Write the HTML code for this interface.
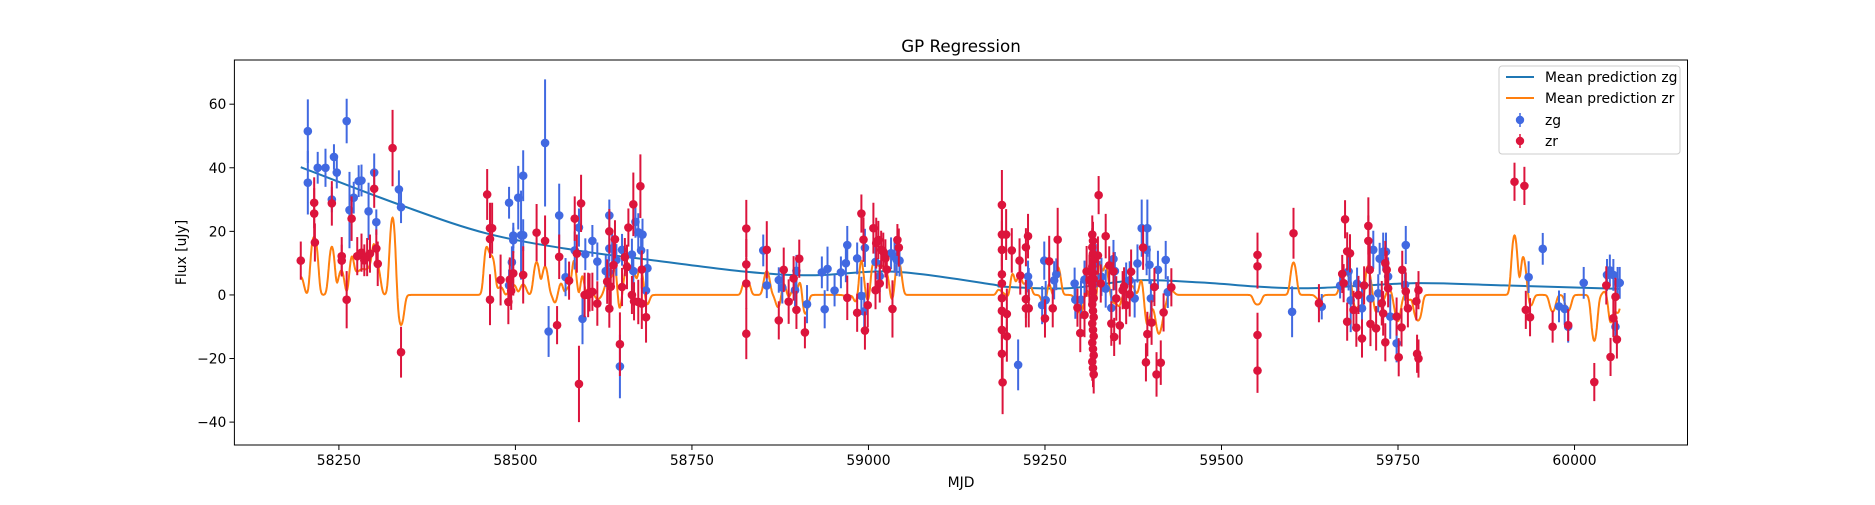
<!DOCTYPE html>
<html><head><meta charset="utf-8"><style>
body{margin:0;background:#fff}
svg text{font-family:"DejaVu Sans","Liberation Sans",sans-serif}
</style></head><body>
<svg id="chart" width="1875" height="500" xmlns="http://www.w3.org/2000/svg">
<rect x="0" y="0" width="1875" height="500" fill="#fff"/>
<text x="961" y="52" font-size="16.7" text-anchor="middle">GP Regression</text>
<text x="961" y="487" font-size="13.9" text-anchor="middle">MJD</text>
<text transform="translate(186,252.5) rotate(-90)" font-size="13.9" text-anchor="middle">Flux [uJy]</text>
<g id="plot"></g>
<g id="axes"></g>
<g>
<rect x="1499" y="66" width="181" height="88" rx="3" fill="#fff" fill-opacity="0.8" stroke="#ccc"/>
<line x1="1506" y1="77" x2="1534" y2="77" stroke="#1f77b4" stroke-width="2"/>
<text x="1545" y="82" font-size="13.9">Mean prediction zg</text>
<line x1="1506" y1="98" x2="1534" y2="98" stroke="#ff7f0e" stroke-width="2"/>
<text x="1545" y="103" font-size="13.9">Mean prediction zr</text>
<line x1="1520" y1="113" x2="1520" y2="127" stroke="#4169e1" stroke-width="1.5"/>
<circle cx="1520" cy="120" r="4.2" fill="#4169e1"/>
<text x="1545" y="125" font-size="13.9">zg</text>
<line x1="1520" y1="134" x2="1520" y2="148" stroke="#dc143c" stroke-width="1.5"/>
<circle cx="1520" cy="141" r="4.2" fill="#dc143c"/>
<text x="1545" y="146" font-size="13.9">zr</text>
</g>
</svg>
<script>
const xTicks=[58250,58500,58750,59000,59250,59500,59750,60000];
const yTicks=[-40,-20,0,20,40,60];
const zgData=[[58206,51.5,10],[58206,35.3,10],[58220,40,5],[58231,40,6],[58243,43.4,4],[58247,38.5,5],[58240,30,4],[58261,54.7,7],[58265,26.7,12],[58271,30.6,5],[58278,35.8,5],[58282,36,5],[58292,26.3,9],[58300,38.5,6],[58303,22.9,4],[58335,33.2,6],[58338,27.6,5],
[58491,29,5],[58491,3,5],[58495,10.3,5],[58497,18.7,4],[58497,17.2,4],[58504,30.6,10],[58508,18.8,14],[58511,37.5,8],[58511,18.8,5],[58542,47.8,20],[58547,-11.5,8],[58562,25,10],[58571,5.6,6],[58584,14,6],[58590,21.2,6],[58595,-7.5,8],[58599,12.8,5],[58609,17,5],[58616,10.5,6],[58628,7.5,5],[58632,7.2,5],[58633,25,5],[58633,14.6,4],[58637,14.6,5],[58643,11,5],[58648,-22.5,10],[58651,14.2,5],[58665,12.7,5],[58667,7.5,6],[58670,23,5],[58674,19.7,6],[58678,14,6],[58680,19,5],[58685,1.4,6],[58687,8.4,6],
[58851,14,5],[58856,3,4],[58873,4.7,4],[58878,2.3,5],[58896,1.5,5],[58898,7.6,5],[58913,-2.9,6],[58934,7.1,5],[58938,-4.5,6],[58942,8.2,7],[58952,1.4,5],[58961,7.1,5],[58968,10,6],[58970,15.7,6],[58984,11.5,5],[58990,-0.3,6],[58994,-5.2,6],[58995,14.8,6],[59010,10.4,5],[59016,5.9,5],[59032,13.1,5],[59037,12,5],[59040,11,5],[59044,10.8,5],
[59212,-22,8],[59226,5.8,5],[59227,3.5,5],[59246,-3.2,6],[59249,10.8,6],[59251,-1.6,6],[59263,4.6,6],[59266,6.5,5],[59292,3.6,5],[59293,-1.5,6],[59301,-1.5,6],[59306,4.8,6],[59321,3.6,6],[59322,10,6],[59330,5.7,6],[59336,2,6],[59344,-4.1,6],[59347,11.3,6],[59349,7.5,6],[59365,4.2,6],[59370,4.6,6],[59377,-1.1,6],[59381,9.9,6],[59387,21,9],[59395,21,9],[59394,14.2,8],[59398,9.5,6],[59400,-1.1,6],[59410,7.9,6],[59421,11,6],[59424,0.9,5],
[59600,-5.3,8],[59642,-3.7,4],[59668,2.9,4],[59680,7.4,6],[59683,-1.7,10],[59692,3.6,5],[59699,-4.2,8],[59711,-1.1,6],[59715,14.2,6],[59722,0.5,6],[59724,11.4,5],[59729,13.6,6],[59733,13.6,6],[59736,5.8,6],[59739,-6.8,7],[59748,-15.2,6],[59760,3.2,5],[59761,15.7,6],
[59935,5.6,5],[59955,14.5,5],[59978,-3.6,5],[59986,-4.4,5],[59991,-10,5],[60013,3.8,5],[60046,6.3,5],[60050,7.7,5],[60055,6.3,5],[60061,3.8,5],[60064,3.8,5],[60058,-10,5]];
const zrData=[[58196,10.8,6],[58215,29,8],[58215,25.6,8],[58216,16.5,6],[58240,28.8,7],[58254,12.2,6],[58254,10.8,5],[58261,-1.5,9],[58268,24,7],[58276,12.2,6],[58282,13.3,6],[58286,10.9,5],[58290,11.9,6],[58294,13,6],[58300,33.4,6],[58303,14.6,6],[58305,9.8,7],[58326,46.2,12],[58338,-18,8],
[58460,31.6,8],[58464,21,8],[58467,21,8],[58464,17.6,6],[58464,-1.5,8],[58479,4.7,8],[58490,-2.2,7],[58492,4.8,7],[58494,1.3,6],[58497,6.8,7],[58511,6.3,9],[58530,19.6,9],[58542,17,8],[58559,-9.5,6],[58562,12,7],[58576,4.5,6],[58584,24,7],[58587,13,6],[58590,-28,12],[58593,28.8,9],[58598,0,7],[58603,0,7],[58605,0.8,6],[58609,1,6],[58616,-2.7,7],[58630,4.2,7],[58633,20,7],[58633,-4.3,6],[58635,2.6,7],[58639,9.4,7],[58641,17.5,6],[58648,-15.5,10],[58651,2.5,6],[58655,11.9,6],[58658,8.8,7],[58660,21.2,6],[58665,0,6],[58667,28.5,10],[58668,-2,6],[58674,-2.2,7],[58677,34.2,10],[58679,-2.7,8],[58679,8,6],[58685,-7,8],
[58827,20.9,9],[58827,9.6,8],[58827,3.6,8],[58827,-12.2,8],[58856,14.2,9],[58873,-8,6],[58880,7.9,7],[58887,-2.1,7],[58894,5.2,7],[58898,-4.7,6],[58902,11.4,6],[58910,-11.8,5],[58970,-0.9,7],[58984,-5.6,6],[58990,25.6,6],[58993,17.4,7],[58995,-11.2,6],[58999,-3.2,7],[59007,21,8],[59010,1.5,6],[59011,16.3,8],[59014,17.3,6],[59016,3.6,6],[59018,14.2,6],[59021,13.6,6],[59024,11.5,6],[59026,8,6],[59034,-4.4,9],[59041,17.3,5],[59043,14.9,6],
[59189,28.3,11],[59189,19,10],[59189,14.2,9],[59189,6.5,9],[59189,3.6,8],[59189,-1,9],[59189,-5,9],[59189,-11,9],[59189,-18.5,9],[59190,-27.5,10],[59195,19,8],[59196,-6,8],[59196,-13,8],[59203,14,7],[59214,10.8,7],[59215,6.1,6],[59223,15,6],[59226,18.5,7],[59223,-1.3,6],[59227,-4.2,6],[59223,-4.2,6],[59250,-7.4,6],[59256,10.6,8],[59261,-4.2,6],[59268,17.4,10],[59296,-4,6],[59300,-12,6],[59306,-6.3,7],[59309,7.4,8],[59313,4.7,8],
[59317,19,6],[59318,17,6],[59317,15,6],[59318,13,6],[59319,11,6],[59317,9,6],[59318,7,6],[59319,5,6],[59317,3,6],[59318,1,6],[59319,-1,6],[59317,-3,6],[59318,-5,6],[59319,-7,6],[59317,-9,6],[59318,-11,6],[59319,-13,6],[59317,-15,6],[59318,-17,6],[59319,-19,6],[59317,-21,6],[59318,-23,6],[59319,-25,6],
[59326,31.4,6],[59325,12.4,6],[59329,3.6,6],[59336,18.5,7],[59341,9.3,6],[59344,-9,7],[59348,-13.2,6],[59351,-1.1,7],[59356,-9.6,6],[59347,7.4,6],[59360,1.5,6],[59362,2.7,6],[59365,-3.2,6],[59370,0.2,7],[59372,7.3,7],[59389,14.9,7],[59393,-21.2,6],[59395,-12.3,7],[59401,-8.7,7],[59405,2.5,6],[59408,-25,7],[59414,-21.3,7],[59418,-5.5,6],[59429,2.4,6],
[59551,12.6,7],[59551,9,7],[59551,-12.6,7],[59551,-23.8,7],[59602,19.4,8],[59638,-2.6,6],
[59671,6.6,6],[59673,3.7,6],[59675,23.8,6],[59678,13.7,6],[59682,13.1,6],[59678,-8.4,6],[59687,-4.7,6],[59691,-10.3,6],[59694,0,6],[59699,-13.7,6],[59702,3,6],[59708,21.7,9],[59708,17,8],[59710,7.9,8],[59711,-9.1,7],[59719,-10.5,7],[59727,-2.6,7],[59729,-5.8,7],[59732,-14.9,6],[59734,7.9,6],[59736,2.1,6],[59732,10,7],[59748,-6.8,6],[59751,-19.6,6],[59755,-10.2,6],[59756,7.9,6],[59761,1.1,6],[59764,-4.2,6],[59777,-18.5,6],[59779,-20,6],[59779,1.5,6],[59776,-2,6],
[59915,35.6,6],[59929,34.3,6],[59931,-4.7,6],[59937,-7,6],[59969,-10,5],[59991,-9.5,5],[60028,-27.4,6],[60045,3,6],[60051,-19.5,6],[60055,-7.3,6],[60058,-0.6,6],[60060,-14,6]];
const zgMeanT=[58196,58337,58460,58587,58685,58827,58921,59039,59181,59189,59283,59378,59472,59551,59612,59659,59775,59900,60065];
const zgMeanF=[40.2,28.3,19.3,14,11.2,7.3,6.2,7.3,3.1,2.6,2.1,4.6,3.9,2.6,2.1,2.4,3.7,3,1.9];

const X0=234.4,X1=1687.5,Y0=60,Y1=445,XMIN=58102,XMAX=60160,YMIN=-47.2,YMAX=73.9;
const sx=v=>X0+(v-XMIN)/(XMAX-XMIN)*(X1-X0);
const sy=v=>Y1-(v-YMIN)/(YMAX-YMIN)*(Y1-Y0);
const NS='http://www.w3.org/2000/svg';
const plot=document.getElementById('plot'),axes=document.getElementById('axes');
function mk(tag,attrs,parent){const e=document.createElementNS(NS,tag);for(const k in attrs)e.setAttribute(k,attrs[k]);parent.appendChild(e);return e;}
// clip
const defs=mk('defs',{},plot);const cp=mk('clipPath',{id:'cp'},defs);mk('rect',{x:X0,y:Y0,width:X1-X0,height:Y1-Y0},cp);
const g=mk('g',{'clip-path':'url(#cp)'},plot);
// zg mean (Catmull-Rom)
let pts=zgMeanT.map((t,i)=>[sx(t),sy(zgMeanF[i])]);
let d='M'+pts[0][0]+','+pts[0][1];
for(let i=0;i<pts.length-1;i++){const p0=pts[Math.max(0,i-1)],p1=pts[i],p2=pts[i+1],p3=pts[Math.min(pts.length-1,i+2)];
d+=` C${p1[0]+(p2[0]-p0[0])/6},${p1[1]+(p2[1]-p0[1])/6} ${p2[0]-(p3[0]-p1[0])/6},${p2[1]-(p3[1]-p1[1])/6} ${p2[0]},${p2[1]}`;}
const zgLine=mk('path',{d:d,fill:'none',stroke:'#1f77b4','stroke-width':2},g);


// zr mean: kernel-smoothed from zr data
let d2='';
for(let t=58196;t<=60064;t+=0.5){let s=0,w=0;for(const p of zrData){const k=Math.exp(-0.5*Math.pow((t-p[0])/3.2,2));s+=k*p[1];w+=k;}
const f=s/(0.9+w);d2+=(d2?'L':'M')+sx(t).toFixed(1)+','+sy(f).toFixed(1);}
const zrLine=mk('path',{d:d2,fill:'none',stroke:'#ff7f0e','stroke-width':2},g);


function drawPts(data,color,name){const gg=mk('g',{},g);


for(const p of data){mk('line',{x1:sx(p[0]),x2:sx(p[0]),y1:sy(p[1]-p[2]),y2:sy(p[1]+p[2]),stroke:color,'stroke-width':2},gg);}
for(const p of data){const c=mk('circle',{cx:sx(p[0]),cy:sy(p[1]),r:4.3,fill:color},gg);

}}
drawPts(zgData,'#4169e1','zg');
drawPts(zrData,'#dc143c','zr');
// axes
const fr=mk('rect',{x:X0,y:Y0,width:X1-X0,height:Y1-Y0,fill:'none',stroke:'#000','stroke-width':1},axes);


for(const t of xTicks){const x=sx(t);mk('line',{x1:x,x2:x,y1:Y1,y2:Y1+5,stroke:'#000'},axes);
const tx=mk('text',{x:x,y:Y1+20,'font-size':13.9,'text-anchor':'middle'},axes);tx.textContent=t;

}
for(const t of yTicks){const y=sy(t);mk('line',{x1:X0-5,x2:X0,y1:y,y2:y,stroke:'#000'},axes);
const tx=mk('text',{x:X0-8,y:y+5,'font-size':13.9,'text-anchor':'end'},axes);tx.textContent=String(t).replace('-','\u2212');

}
</script>
</body></html>
